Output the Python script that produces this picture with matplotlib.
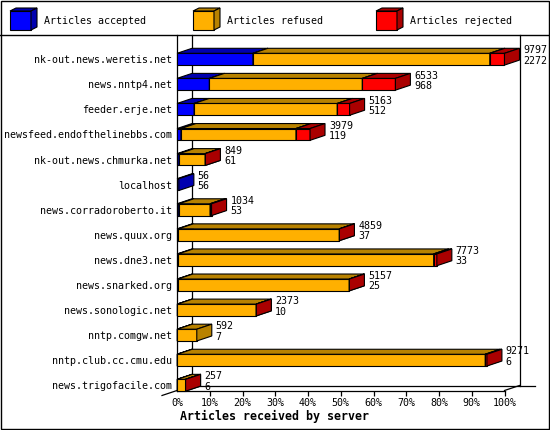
import matplotlib
matplotlib.use("Agg")
import matplotlib.pyplot as plt
from matplotlib.patches import Polygon, Rectangle

servers = ["nk-out.news.weretis.net", "news.nntp4.net", "feeder.erje.net",
           "newsfeed.endofthelinebbs.com", "nk-out.news.chmurka.net", "localhost",
           "news.corradoroberto.it", "news.quux.org", "news.dne3.net",
           "news.snarked.org", "news.sonologic.net", "nntp.comgw.net",
           "nntp.club.cc.cmu.edu", "news.trigofacile.com"]
accepted = [2272, 968, 512, 119, 61, 56, 53, 37, 33, 25, 10, 7, 6, 6]
refused = [7085, 4575, 4281, 3440, 783, 0, 936, 4819, 7645, 5128, 2360, 585, 9215, 249]
rejected = [440, 990, 370, 420, 5, 0, 45, 3, 95, 4, 3, 0, 50, 2]
totals = [9797, 6533, 5163, 3979, 849, 56, 1034, 4859, 7773, 5157, 2373, 592, 9271, 257]
legend_labels = ["Articles accepted", "Articles refused", "Articles rejected"]
front_cols = ["#0000ff", "#ffb000", "#ff0000"]
dark_cols = ["#0000b0", "#b88200", "#aa0000"]
xticks = list(range(0, 101, 10))

W, H = 550, 430
fig = plt.figure(figsize=(5.5, 4.3), dpi=100)
mono = "DejaVu Sans Mono"
fs = 7.2

# frame + legend, pixel coordinates
bg = fig.add_axes([0, 0, 1, 1])
bg.set_xlim(0, W)
bg.set_ylim(H, 0)
bg.axis("off")
bg.add_patch(Rectangle((0.5, 0.5), W - 1.5, H - 1.5, fill=False, lw=1, ec="black"))
bg.plot([0, W], [35, 35], color="black", lw=1)
for k in range(3):
    x0 = 10 + 183 * k
    bg.add_patch(Rectangle((x0, 11), 21, 19, fc=front_cols[k], ec="black", lw=0.8))
    bg.add_patch(Polygon([(x0, 11), (x0 + 21, 11), (x0 + 27, 8), (x0 + 6, 8)],
                         closed=True, fc=dark_cols[k], ec="black", lw=0.8))
    bg.add_patch(Polygon([(x0 + 21, 11), (x0 + 27, 8), (x0 + 27, 27), (x0 + 21, 30)],
                         closed=True, fc=dark_cols[k], ec="black", lw=0.8))
    bg.text(x0 + 34, 21, legend_labels[k], family=mono, fontsize=fs, va="center", ha="left")

# plot area: x 177..504.5 px, y 35..390.5 px
ax = fig.add_axes([177 / W, (H - 390.5) / H, 327.5 / W, (390.5 - 35) / H])
ytop = (35 - 59.2) / 25.08
ybot = (390.5 - 59.2) / 25.08
ax.set_xlim(0, 100)
ax.set_ylim(ybot, ytop)
for s in ax.spines.values():
    s.set_visible(False)
ax.patch.set_visible(False)

dx = 15 / 3.275
dy = 5 / 25.08
h = 0.47

line = dict(color="black", lw=0.9, clip_on=False, zorder=1)
ax.plot([0, 0], [ytop, ybot], **line)
ax.plot([dx, dx], [ytop, ybot - dy], **line)
ax.plot([100 + dx, 100 + dx], [ytop, ybot - dy], **line)
ax.plot([0, 100], [ybot, ybot], **line)
ax.plot([dx, 109.3], [ybot - dy, ybot - dy], **line)
ax.plot([100, 100 + dx], [ybot, ybot - dy], **line)
ax.plot([-dx, dx], [ybot + dy, ybot - dy], **line)

vmax = max(totals)
z = 2
for i in range(len(servers)):
    left = 0.0
    for k, vals in enumerate([accepted, refused, rejected]):
        v = vals[i]
        if v <= 0:
            continue
        w = v / vmax * 100
        x0, x1 = left, left + w
        yt, yb = i - h / 2, i + h / 2
        ax.barh(i, w, left=x0, height=h, color=front_cols[k], edgecolor="black",
                lw=0.8, zorder=z, clip_on=False)
        ax.add_patch(Polygon([(x0, yt), (x1, yt), (x1 + dx, yt - dy), (x0 + dx, yt - dy)],
                             closed=True, fc=dark_cols[k], ec="black", lw=0.8,
                             zorder=z + 1, clip_on=False))
        ax.add_patch(Polygon([(x1, yt), (x1 + dx, yt - dy), (x1 + dx, yb - dy), (x1, yb)],
                             closed=True, fc=dark_cols[k], ec="black", lw=0.8,
                             zorder=z + 2, clip_on=False))
        z += 3
        left = x1
    xe = totals[i] / vmax * 100 + dx + 1.2
    ax.text(xe, i - 0.35, str(totals[i]), family=mono, fontsize=fs, va="center",
            ha="left", zorder=200, clip_on=False)
    ax.text(xe, i + 0.06, str(accepted[i]), family=mono, fontsize=fs, va="center",
            ha="left", zorder=200, clip_on=False)

ax.set_yticks(range(len(servers)))
ax.set_yticklabels(servers, family=mono, fontsize=fs)
ax.tick_params(axis="y", length=0, pad=3.6)
ax.set_xticks(xticks)
ax.set_xticklabels([f"{t}%" for t in xticks], family=mono, fontsize=fs)
ax.tick_params(axis="x", length=3.6, width=0.9, direction="out", pad=1.5)
ax.xaxis.get_major_ticks()[0].tick1line.set_visible(False)

fig.text(180 / W, 1 - 416 / H, "Articles received by server", family=mono,
         fontweight="bold", fontsize=8.4, ha="left", va="center")

fig.savefig("out.png", dpi=100)
